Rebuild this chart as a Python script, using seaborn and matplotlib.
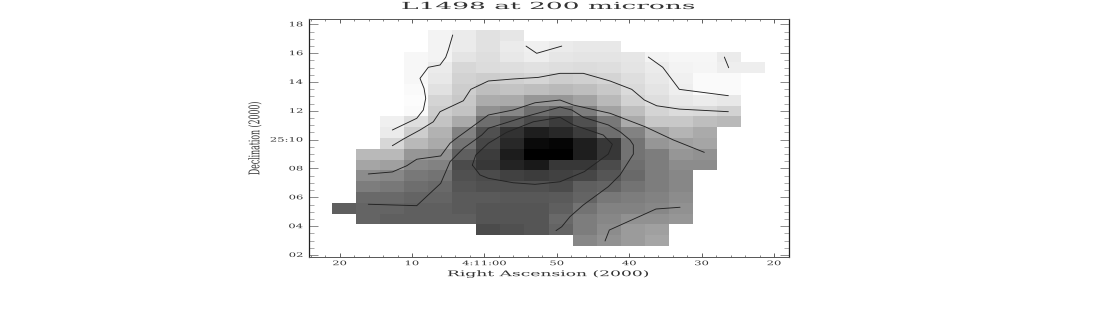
import numpy as np
import pandas as pd
import matplotlib
matplotlib.use('Agg')
import matplotlib.pyplot as plt
import matplotlib.patheffects as pe
from matplotlib.transforms import Affine2D
import seaborn as sns

# brightness of each map cell, rows from north to south, nan = no data
nan = np.nan
map_rows = [
    [nan, nan, nan, nan, 243, 235, 225, 230, nan, nan, nan, nan, nan, nan, nan, nan, nan, nan],
    [nan, nan, nan, nan, 243, 235, 225, 235, 240, 235, 232, 232, nan, nan, nan, nan, nan, nan],
    [nan, nan, nan, 247, 243, 228, 222, 232, 238, 230, 228, 228, 230, 243, 246, 246, 235, nan],
    [nan, nan, nan, 247, 235, 215, 220, 222, 225, 222, 220, 222, 228, 235, 243, 245, 238, 238],
    [nan, nan, nan, 247, 232, 210, 205, 208, 213, 205, 208, 212, 222, 232, 240, 250, 250, nan],
    [nan, nan, nan, 250, 225, 205, 190, 195, 190, 185, 190, 200, 218, 228, 238, 250, 250, nan],
    [nan, nan, nan, 252, 212, 200, 172, 170, 150, 150, 162, 185, 210, 222, 232, 236, 232, nan],
    [nan, nan, nan, 250, 205, 195, 145, 135, 110, 100, 125, 162, 190, 212, 220, 218, 210, nan],
    [nan, nan, 240, 222, 195, 170, 110, 90, 75, 60, 80, 120, 170, 200, 200, 190, 185, nan],
    [nan, nan, 235, 205, 178, 130, 80, 50, 30, 40, 60, 110, 130, 165, 180, 170, nan, nan],
    [nan, nan, 215, 185, 170, 115, 70, 40, 10, 5, 30, 55, 115, 150, 160, 165, nan, nan],
    [nan, 185, 185, 150, 145, 95, 60, 28, 0, 0, 30, 55, 115, 125, 150, 145, nan, nan],
    [nan, 165, 160, 135, 130, 75, 55, 35, 25, 55, 55, 75, 110, 125, 140, 140, nan, nan],
    [nan, 140, 135, 120, 115, 80, 75, 65, 60, 65, 70, 85, 105, 125, 135, nan, nan, nan],
    [nan, 125, 120, 110, 105, 85, 80, 80, 80, 75, 95, 100, 115, 125, 135, nan, nan, nan],
    [nan, 105, 105, 100, 100, 90, 90, 88, 88, 90, 100, 120, 125, 130, 140, nan, nan, nan],
    [95, 100, 100, 95, 95, 90, 85, 85, 85, 95, 115, 130, 130, 135, 145, nan, nan, nan],
    [nan, 100, 95, 95, 95, 95, 85, 85, 85, 105, 125, 135, 145, 145, 150, nan, nan, nan],
    [nan, nan, nan, nan, nan, nan, 75, 80, 85, 100, 125, 140, 155, 160, nan, nan, nan, nan],
    [nan, nan, nan, nan, nan, nan, nan, nan, nan, nan, 135, 145, 155, 165, nan, nan, nan, nan],
]

# contour lines: RA in seconds from 4:11:00, Dec in arcmin past 25:00
cont_a_ra = [4.38, 4.99, 5.35, 6.13, 7.75, 8.90, 8.34, 8.11, 8.44, 9.35, 12.72]
cont_a_dec = [17.26, 16.22, 15.71, 15.18, 15.02, 14.25, 13.56, 12.87, 12.06, 11.48, 10.67]
cont_b_ra = [-5.75, -7.22, -10.68]
cont_b_dec = [16.49, 15.99, 16.49]
cont_c_ra = [-22.64, -24.63, -26.92, -33.69]
cont_c_dec = [15.73, 15.02, 13.49, 13.05]
cont_d_ra = [-33.14, -33.74]
cont_d_dec = [15.73, 14.99]
cont_e_ra = [12.72, 11.2, 8.90, 7.06, 6.13, 2.91, 1.89, -0.54, -3.99, -7.44, -10.44, -13.66,
             -17.35, -20.35, -22.09, -23.80, -26.92, -33.69]
cont_e_dec = [9.58, 10.04, 10.67, 11.24, 11.94, 12.70, 13.49, 14.07, 14.21, 14.32, 14.60, 14.60,
              14.07, 13.49, 12.75, 12.35, 12.12, 11.94]
cont_f_ra = [16.04, 12.72, 10.73, 9.35, 6.04, 4.75, 3.83, -0.54, -3.99, -6.99, -10.44, -12.28,
             -17.35, -22.18, -26.09, -30.37]
cont_f_dec = [7.62, 7.76, 8.19, 8.64, 8.87, 9.75, 10.11, 11.71, 12.06, 12.56, 12.75, 12.40,
              11.83, 10.90, 9.98, 9.12]
cont_g_ra = [16.04, 9.35, 6.04, 4.75, 2.91, 0.37, -0.54, -2.85, -5.61, -10.44, -12.06, -13.66,
             -17.11, -18.73, -20.11, -20.57, -20.57, -18.73, -17.11, -13.66, -11.82, -10.68, -9.89]
cont_g_dec = [5.52, 5.42, 6.97, 8.47, 9.40, 10.32, 10.79, 11.15, 11.59, 12.26, 12.06, 11.55,
              11.02, 10.55, 9.98, 9.63, 9.0, 7.55, 6.74, 5.47, 4.66, 3.96, 3.69]
cont_h_ra = [1.67, 1.20, -0.54, -3.08, -6.75, -10.44, -12.28, -16.42, -17.67, -17.11, -13.80,
             -10.44, -6.99, -3.99, -0.54, 0.61, 1.67]
cont_h_dec = [8.24, 8.93, 9.75, 10.51, 11.24, 11.55, 11.02, 10.32, 9.68, 9.0, 7.78, 7.08, 6.90,
              7.01, 7.32, 7.55, 8.24]
cont_i_ra = [-16.66, -17.25, -23.70, -27.02]
cont_i_dec = [2.97, 3.73, 5.19, 5.31]

ra_ticks = [20, 10, 0, -10, -20, -30, -40]
ra_labels = ['20', '10', '4:11:00', '50', '40', '30', '20']
dec_ticks = [2, 4, 6, 8, 10, 12, 14, 16, 18]
dec_labels = ['02', '04', '06', '08', '25:10', '12', '14', '16', '18']

# map grid in sky units
ra_first = 21.01
ra_step = 3.318
dec_first = 17.60
dec_step = 0.749
ra_lim = (24.3, -42.0)
dec_lim = (1.86, 18.37)


def ra_cell(ra):
    return (ra_first - np.asarray(ra, dtype=float)) / ra_step


def dec_cell(dec):
    return (dec_first - np.asarray(dec, dtype=float)) / dec_step


# the source figure was stretched sideways, text has to follow
class Stretch(pe.AbstractPathEffect):
    def __init__(self, sx, sy, keep_right=False):
        super().__init__()
        self.sx = sx
        self.sy = sy
        self.keep_right = keep_right

    def draw_path(self, renderer, gc, tpath, affine, rgbFace=None):
        ext = tpath.get_extents()
        cx = ext.x1 if self.keep_right else ext.x0 + ext.width / 2
        cy = ext.y0 + ext.height / 2
        local = Affine2D().translate(-cx, -cy).scale(self.sx, self.sy).translate(cx, cy)
        renderer.draw_path(gc, tpath, local + affine, rgbFace)


sns.set_theme(style='white')
plt.rcParams['font.family'] = ['DejaVu Serif']

W, H = 1097, 309
fig = plt.figure(figsize=(W / 100, H / 100), dpi=100)
ax = fig.add_axes([308.5 / W, 1 - 257 / H, 480 / W, 238 / H])

grid = pd.DataFrame(map_rows)
sns.heatmap(grid, cmap='gray', vmin=0, vmax=255, cbar=False, ax=ax, xticklabels=False, yticklabels=False)

contours = [(cont_a_ra, cont_a_dec), (cont_b_ra, cont_b_dec), (cont_c_ra, cont_c_dec),
            (cont_d_ra, cont_d_dec), (cont_e_ra, cont_e_dec), (cont_f_ra, cont_f_dec),
            (cont_g_ra, cont_g_dec), (cont_h_ra, cont_h_dec), (cont_i_ra, cont_i_dec)]
for ra, dec in contours:
    line = pd.DataFrame({'x': ra_cell(ra), 'y': dec_cell(dec)})
    sns.lineplot(data=line, x='x', y='y', sort=False, estimator=None, color='#222222', lw=0.65, ax=ax)

ax.set_xlim(ra_cell(ra_lim[0]), ra_cell(ra_lim[1]))
ax.set_ylim(dec_cell(dec_lim[0]), dec_cell(dec_lim[1]))

ax.set_xticks(ra_cell(ra_ticks))
ax.set_xticklabels(ra_labels, fontsize=4.5, color='#333333')
ax.set_xticks(ra_cell(np.arange(24, -42, -2)), minor=True)
ax.set_yticks(dec_cell(dec_ticks))
ax.set_yticklabels(dec_labels, fontsize=4.5, color='#333333')
ax.set_yticks(dec_cell(np.arange(2, 18.5, 0.5)), minor=True)
ax.tick_params(axis='x', which='major', direction='in', top=True, bottom=True, length=3, width=0.6,
               color='#444444', pad=3)
ax.tick_params(axis='x', which='minor', direction='in', top=True, bottom=True, length=1.5, width=0.5,
               color='#555555')
ax.tick_params(axis='y', which='major', direction='in', left=True, right=True, length=6.5, width=0.6,
               color='#777777', pad=4)
ax.tick_params(axis='y', which='minor', direction='in', left=True, right=True, length=3.5, width=0.5,
               color='#888888')
for lab in ax.get_xticklabels():
    lab.set_path_effects([Stretch(1.85, 1.0)])
for lab in ax.get_yticklabels():
    lab.set_path_effects([Stretch(1.85, 1.0, keep_right=True)])

for side in ['top', 'bottom']:
    ax.spines[side].set_visible(True)
    ax.spines[side].set_linewidth(0.7)
    ax.spines[side].set_color('#555555')
for side in ['left', 'right']:
    ax.spines[side].set_visible(True)
    ax.spines[side].set_linewidth(0.9)
    ax.spines[side].set_color('#222222')

title = fig.text(548.5 / W, 1 - 6.5 / H, 'L1498 at 200 microns', fontsize=7, ha='center', va='center', color='#333333')
title.set_path_effects([Stretch(2.72, 1.0)])
xlab = ax.set_xlabel('Right Ascension (2000)', fontsize=5.6, color='#333333', va='center', visible=True)
xlab.set_path_effects([Stretch(2.2, 1.0)])
ax.xaxis.set_label_coords(0.5, -0.072)
ylab = ax.set_ylabel('Declination (2000)', fontsize=5.6, color='#333333', va='center', visible=True)
ylab.set_path_effects([Stretch(1.0, 1.9)])
ax.yaxis.set_label_coords(-0.111, 0.5)

fig.savefig('out.png', dpi=100)
